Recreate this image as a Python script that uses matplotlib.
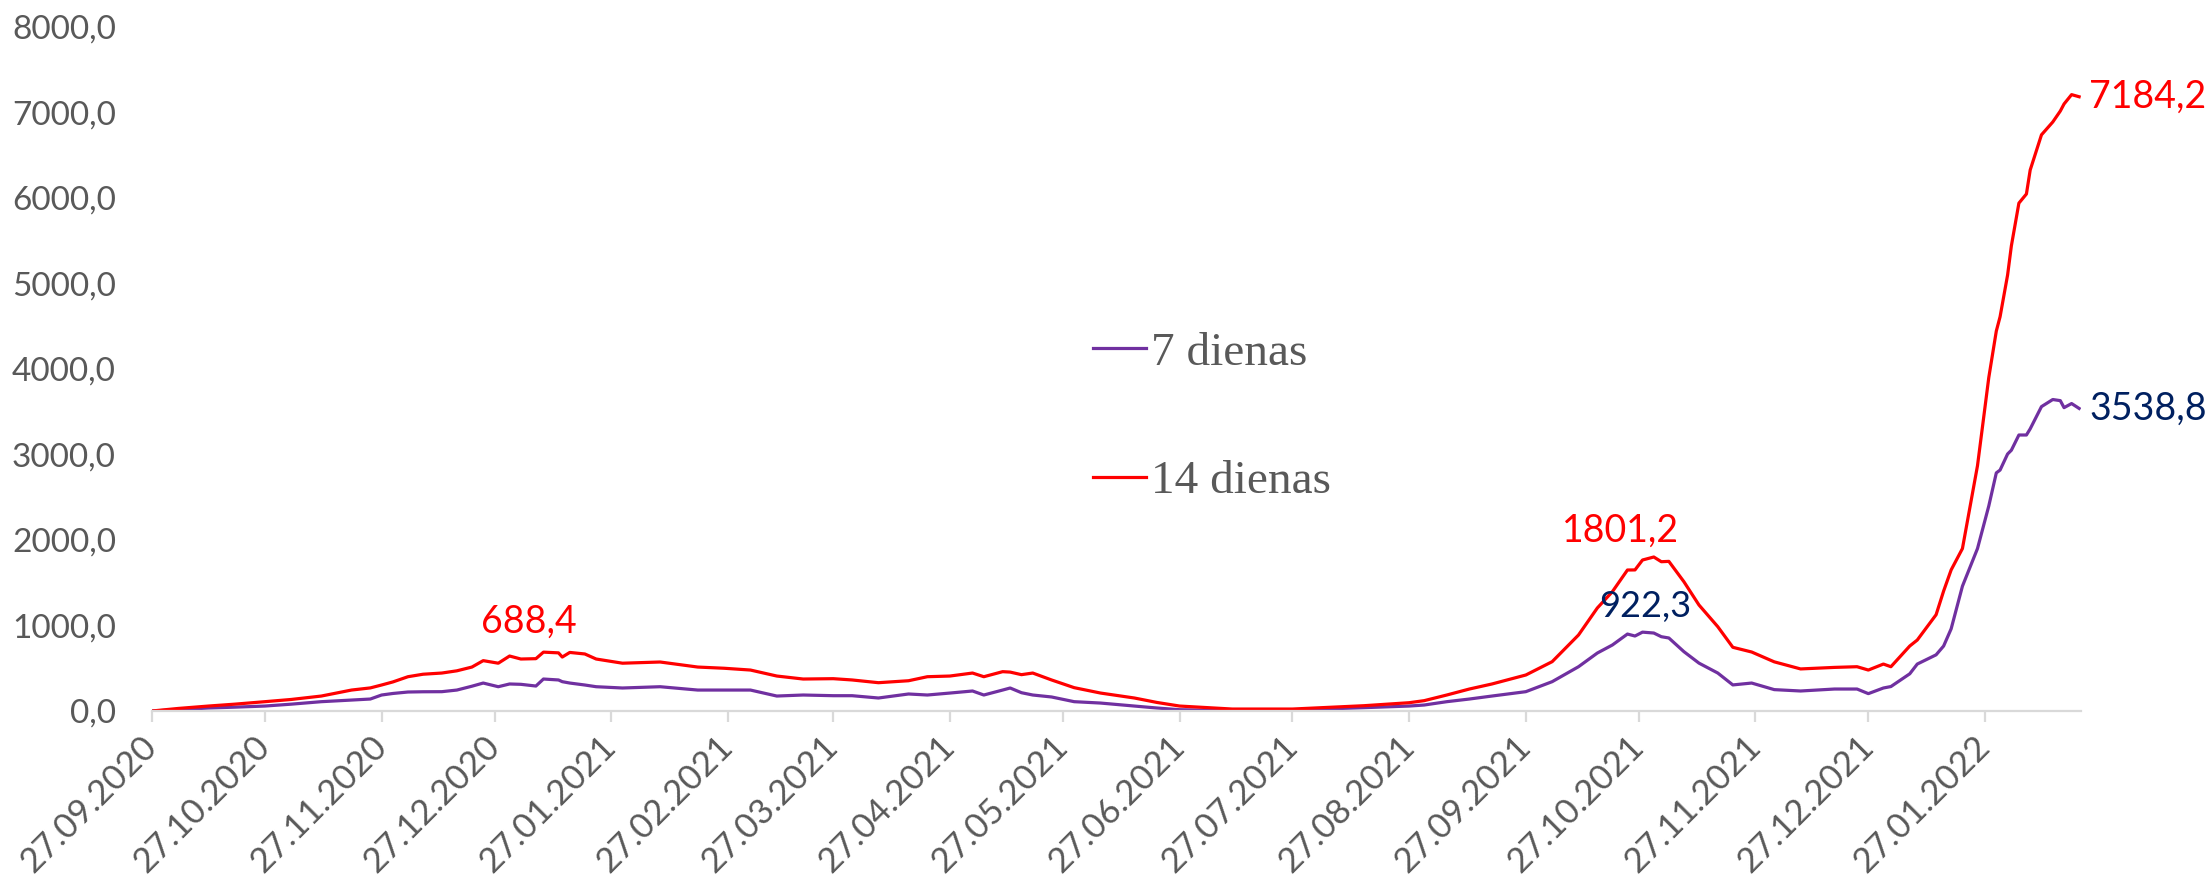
import matplotlib
matplotlib.use('Agg')
import matplotlib.pyplot as plt
import matplotlib.dates as mdates
import numpy as np
from matplotlib.ticker import FuncFormatter

# -------------------------------------------------------------------------------------
# data, days counted from the start date
# -------------------------------------------------------------------------------------
start_date = '2020-09-27'
day_offset = [0, 7, 15, 22, 30, 37, 45, 53, 58, 61, 64, 68, 72, 77, 81, 85, 88, 92, 95, 98,
              102, 104, 108, 109, 111, 115, 118, 125, 135, 145, 152, 159, 166, 173, 181, 186,
              193, 201, 206, 212, 218, 221, 226, 228, 231, 234, 239, 245, 252, 261, 267, 273,
              287, 303, 322, 334, 338, 344, 350, 356, 365, 372, 379, 384, 388, 392, 394, 396,
              399, 401, 403, 407, 411, 416, 420, 425, 431, 438, 447, 453, 456, 460, 462, 467,
              469, 474, 476, 478, 481, 485, 488, 490, 491, 493, 494, 496, 498, 499, 502, 505,
              507, 508, 510, 512]

days14 = [0, 30, 58, 80, 109, 135, 175, 245, 270, 304, 340, 401, 430, 444, 470, 514, 589, 559, 643, 608,
          612, 688.4, 680, 631, 685, 667, 608, 559, 573, 514, 500, 479, 409, 374, 378, 363,
          331, 354, 401, 409, 444, 401, 460, 455, 425, 444, 363, 273, 210, 152, 100, 58,
          23, 23, 62, 97, 121, 187, 257, 316, 421, 577, 889, 1205, 1396, 1649, 1650, 1766,
          1801.2, 1746, 1750, 1512, 1240, 986, 745, 690, 575, 492, 510, 518, 479, 549, 518, 760,
          830, 1126, 1403, 1650, 1900, 2869, 3900, 4444, 4611, 5100, 5440, 5940, 6047, 6327, 6739, 6889,
          7017, 7100, 7209, 7184.2]

days7 = [0, 15, 35, 45, 58, 80, 109, 128, 140, 187, 205, 222, 225, 226, 245, 290, 327, 284, 316, 312,
         292, 374, 363, 343, 327, 304, 284, 269, 284, 245, 245, 245, 175, 187, 179, 179,
         152, 199, 187, 210, 234, 187, 245, 269, 214, 187, 164, 109, 93, 58, 35, 15,
         4, 10, 39, 58, 70, 109, 140, 175, 226, 343, 518, 678, 772, 900, 877, 922.3,
         912, 869, 854, 694, 560, 444, 305, 327, 250, 234, 257, 257, 203, 269, 286, 435,
         549, 657, 760, 961, 1460, 1900, 2398, 2785, 2818, 3006, 3050, 3228, 3228, 3300, 3560, 3643,
         3630, 3548, 3596, 3538.8]

series_labels = ['7 dienas', '14 dienas']
y_ticks = [0, 1000, 2000, 3000, 4000, 5000, 6000, 7000, 8000]

dates = np.datetime64(start_date) + np.array(day_offset).astype('timedelta64[D]')
dates = dates.astype('datetime64[ms]').astype(object)
tick_dates = np.arange(np.datetime64('2020-09'), np.datetime64('2022-02'), np.timedelta64(1, 'M'))
tick_dates = (tick_dates.astype('datetime64[D]') + np.timedelta64(26, 'D')).astype('datetime64[ms]').astype(object)

Red = '#FF0000'
Purple = '#7030A0'
Navy = '#002060'
Grey = '#595959'

fig = plt.figure(figsize=(22.08, 8.82), dpi=100)
ax = fig.add_axes([152 / 2208, 1 - 711 / 882, (2081 - 152) / 2208, (711 - 27) / 882])

ax.plot(dates, days7, color=Purple, linewidth=2.3, label=series_labels[0])
ax.plot(dates, days14, color=Red, linewidth=2.3, label=series_labels[1])

ax.set_ylim(0, 8000)
ax.set_xlim(dates[0], np.datetime64('2022-02-21T12:00').astype('datetime64[ms]').astype(object))
ax.set_yticks(y_ticks)
ax.yaxis.set_major_formatter(FuncFormatter(lambda v, p: ('%.1f' % v).replace('.', ',')))
ax.set_xticks(tick_dates)
ax.xaxis.set_major_formatter(mdates.DateFormatter('%d.%m.%Y'))

for s in ['left', 'right', 'top']:
    ax.spines[s].set_visible(False)
ax.spines['bottom'].set_color('#D9D9D9')
ax.spines['bottom'].set_linewidth(1.6)

ax.tick_params(axis='y', length=0, pad=26, labelsize=24, labelcolor=Grey)
ax.tick_params(axis='x', length=8, width=1.6, color='#D9D9D9', pad=14, labelsize=25, labelcolor=Grey)
for lab in ax.get_xticklabels():
    lab.set_fontfamily('Lato')
    lab.set_rotation(45)
    lab.set_ha('right')
    lab.set_va('center')
    lab.set_rotation_mode('anchor')
for lab in ax.get_yticklabels():
    lab.set_fontfamily('Lato')

# value labels
i14 = int(np.argmax(days14[:30]))
ax.annotate('688,4', xy=(dates[i14], days14[i14]), xytext=(-15, 30), textcoords='offset pixels',
            ha='center', va='center', color=Red, fontsize=27, family='Lato')
i14 = int(np.argmax(days14[:80]))
ax.annotate('1801,2', xy=(dates[i14], days14[i14]), xytext=(-33, 26), textcoords='offset pixels',
            ha='center', va='center', color=Red, fontsize=27, family='Lato')
i7 = int(np.argmax(days7[:80]))
ax.annotate('922,3', xy=(dates[i7], days7[i7]), xytext=(3, 26), textcoords='offset pixels',
            ha='center', va='center', color=Navy, fontsize=26, family='Lato')
ax.annotate('7184,2', xy=(dates[-1], days14[-1]), xytext=(10, 0), textcoords='offset pixels',
            ha='left', va='center', color=Red, fontsize=27, family='Lato', annotation_clip=False)
ax.annotate('3538,8', xy=(dates[-1], days7[-1]), xytext=(10, 0), textcoords='offset pixels',
            ha='left', va='center', color=Navy, fontsize=27, family='Lato', annotation_clip=False)

leg = fig.legend(loc='center left', bbox_to_anchor=(1093 / 2208, 1 - 417.5 / 882), frameon=False,
                 handlelength=1.12, handletextpad=0.1, labelspacing=1.8, borderpad=0, borderaxespad=0,
                 prop={'family': 'Liberation Serif', 'size': 34})
for t in leg.get_texts():
    t.set_color(Grey)

fig.savefig('out.png', dpi=100)
